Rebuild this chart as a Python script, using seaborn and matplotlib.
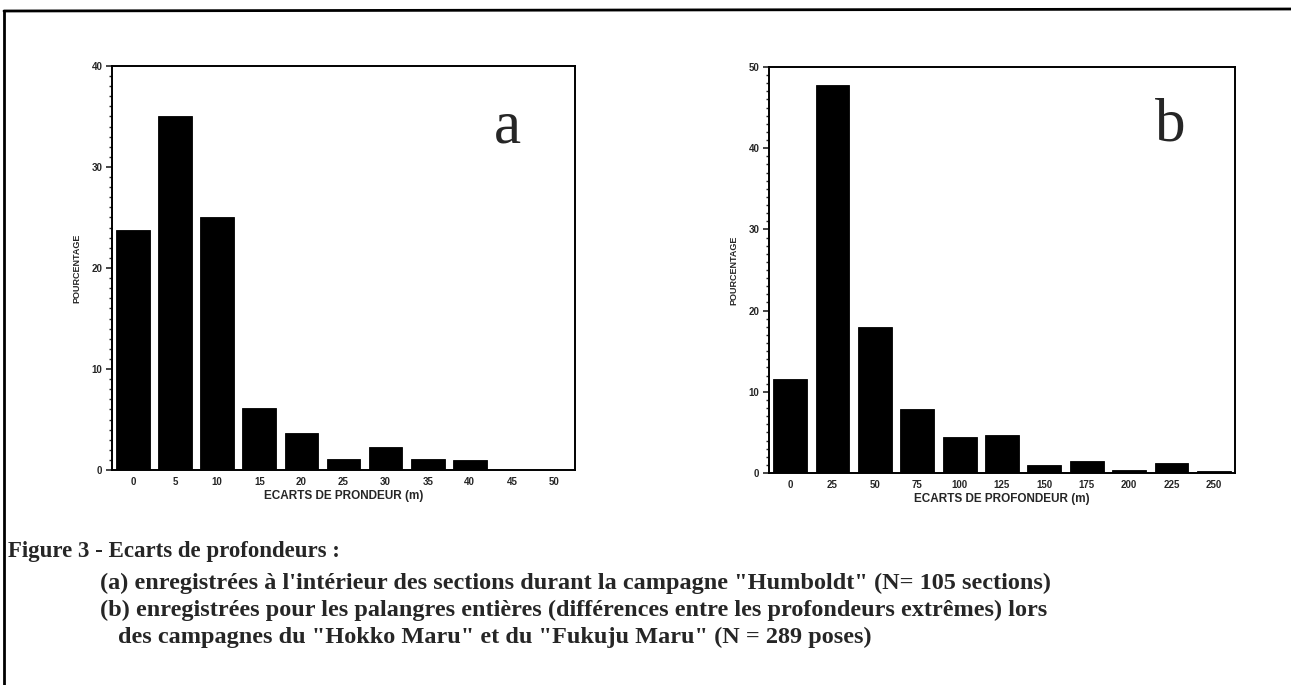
import matplotlib
matplotlib.use("Agg")
import matplotlib.pyplot as plt
from matplotlib.lines import Line2D
from matplotlib.ticker import MultipleLocator
import pandas as pd
import seaborn as sns

# Depth-difference classes (m) and percentage of records in each class
ecarts_a = ["0", "5", "10", "15", "20", "25", "30", "35", "40", "45", "50"]
pourcent_a = [23.8, 35.0, 25.0, 6.1, 3.7, 1.1, 2.3, 1.1, 1.0, 0.0, 0.0]

ecarts_b = ["0", "25", "50", "75", "100", "125", "150", "175", "200", "225", "250"]
pourcent_b = [11.6, 47.8, 18.0, 7.9, 4.4, 4.7, 0.95, 1.5, 0.35, 1.2, 0.3]

yticks_a = [0, 10, 20, 30, 40]
yticks_b = [0, 10, 20, 30, 40, 50]

df_a = pd.DataFrame({"ecart": ecarts_a, "pourcentage": pourcent_a})
df_b = pd.DataFrame({"ecart": ecarts_b, "pourcentage": pourcent_b})

sns.set_theme(style="ticks")
plt.rcParams["font.family"] = ["Liberation Sans", "DejaVu Sans"]

W, H = 1291, 685
fig = plt.figure(figsize=(W / 100, H / 100), dpi=100)
fig.patch.set_facecolor("white")


def px_axes(x0, y0, x1, y1):
    return fig.add_axes([x0 / W, 1 - y1 / H, (x1 - x0) / W, (y1 - y0) / H])


def draw_panel(ax, df, order, yticks, ymax, xlabel, letter, letter_xy):
    sns.barplot(data=df, x="ecart", y="pourcentage", order=order, color="black",
                edgecolor="black", linewidth=0.6, width=0.8, saturation=1, ax=ax)
    ax.set_xlim(-0.5, len(order) - 0.5)
    ax.set_ylim(0, ymax)
    ax.set_yticks(yticks)
    ax.yaxis.set_minor_locator(MultipleLocator(1))
    ax.set_xticks(range(len(order)))
    ax.set_xticklabels(order)
    for s in ax.spines.values():
        s.set_linewidth(1.4)
        s.set_color("black")
        s.set_visible(True)
    ax.tick_params(axis="y", which="major", direction="out", length=4, width=1.2,
                   labelsize=7, pad=3)
    ax.tick_params(axis="y", which="minor", direction="out", length=2, width=1.0)
    ax.tick_params(axis="x", which="major", length=0, labelsize=7, pad=5)
    for lab in ax.get_xticklabels() + ax.get_yticklabels():
        lab.set_fontweight("black")
    ax.set_xlabel(xlabel, fontsize=8.5, fontweight="black", labelpad=2)
    ax.set_ylabel("POURCENTAGE", fontsize=6.5, fontweight="black", labelpad=7)
    ax.text(letter_xy[0], letter_xy[1], letter, transform=ax.transAxes,
            fontsize=44, family="Liberation Serif", ha="center", va="center")
    ax.set_facecolor("white")


ax_a = px_axes(112, 66, 575, 470)
draw_panel(ax_a, df_a, ecarts_a, yticks_a, 40, "ECARTS DE PRONDEUR (m)", "a",
           ((507 - 112) / 463, (470 - 128) / 404))

ax_b = px_axes(769, 67, 1235, 473)
draw_panel(ax_b, df_b, ecarts_b, yticks_b, 50, "ECARTS DE PROFONDEUR (m)", "b",
           ((1170 - 769) / 466, (473 - 126) / 406))

# Page frame (top and left rules)
fig.add_artist(Line2D([4 / W, 1.0], [1 - 11 / H, 1 - 9 / H], color="black",
                      lw=2, transform=fig.transFigure))
fig.add_artist(Line2D([4 / W, 4 / W], [1 - 11 / H, 0.0], color="black",
                      lw=2, transform=fig.transFigure))

# Caption
cap = dict(family="Liberation Serif", fontweight="bold", fontsize=17.5,
           va="center", ha="left", transform=fig.transFigure)
fig.text(8 / W, 1 - 551 / H, "Figure 3 - Ecarts de profondeurs :",
         **{**cap, "fontsize": 16.5})
fig.text(100 / W, 1 - 583 / H,
         "(a) enregistrées à l'intérieur des sections durant la campagne "
         "\"Humboldt\" (N= 105 sections)", **cap)
fig.text(100 / W, 1 - 610 / H,
         "(b) enregistrées pour les palangres entières (différences entre les "
         "profondeurs extrêmes) lors", **cap)
fig.text(118 / W, 1 - 637 / H,
         "des campagnes du \"Hokko Maru\" et du \"Fukuju Maru\" (N = 289 poses)",
         **cap)

fig.savefig("out.png", dpi=100, facecolor="white")
